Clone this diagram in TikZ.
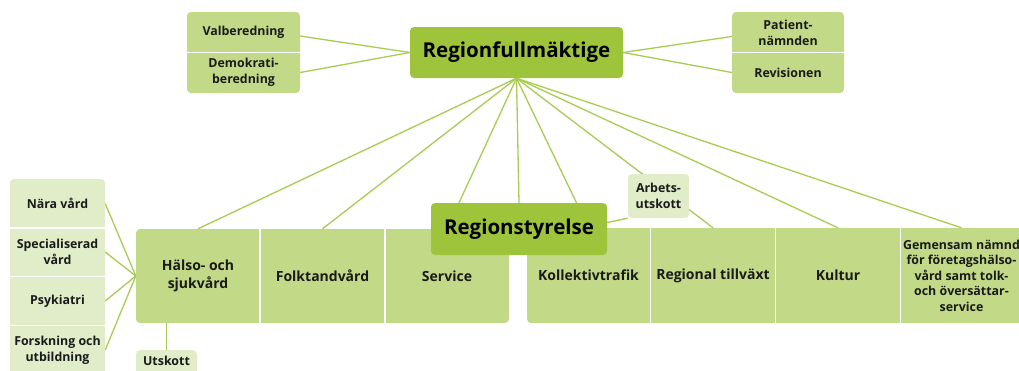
\documentclass[tikz,border=0pt]{standalone}
\usepackage{fontspec}
\setmainfont{Open Sans}
\usetikzlibrary{backgrounds,calc}
\definecolor{darkg}{HTML}{9EC43C}
\definecolor{midg}{HTML}{C2DA88}
\definecolor{lightg}{HTML}{E1EDC9}
\definecolor{lineg}{HTML}{A8CC52}
\definecolor{txt}{HTML}{1A1A1A}
\tikzset{
  cell/.style={rectangle, inner sep=0pt, align=center, text=txt, font=\bfseries\fontsize{12.4}{16}\selectfont},
  bigcell/.style={cell, font=\bfseries\fontsize{14}{18}\selectfont},
  head/.style={rectangle, rounded corners=4pt, fill=darkg, inner sep=0pt, align=center, text=black, font=\bfseries\fontsize{20.5}{24}\selectfont},
  sep/.style={white, line width=1.6pt},
  conn/.style={lineg, line width=1.3pt},
}
\begin{document}
\begin{tikzpicture}[x=1pt,y=-1pt]
\useasboundingbox (0,0) rectangle (1019,370);
\clip (0,0) rectangle (1019,370);
% group backgrounds
\fill[midg, rounded corners=4pt] (187,12) rectangle (300,93);
\fill[midg, rounded corners=4pt] (732,12) rectangle (844,93);
\fill[lightg, rounded corners=4pt] (10,179) rectangle (105,385);
\fill[midg, rounded corners=4pt] (136,229) rectangle (509,323);
\fill[midg, rounded corners=4pt] (527,228) rectangle (1030,323);
% separators
\draw[sep] (187,52.5) -- (300,52.5);
\draw[sep] (732,52.5) -- (844,52.5);
\draw[sep] (10,228) -- (105,228);
\draw[sep] (10,276.5) -- (105,276.5);
\draw[sep] (10,325.5) -- (105,325.5);
\draw[sep] (260,229) -- (260,323);
\draw[sep] (385,229) -- (385,323);
\draw[sep] (650.5,228) -- (650.5,323);
\draw[sep] (775.5,228) -- (775.5,323);
\draw[sep] (900.5,228) -- (900.5,323);
% cells
\node[cell, minimum width=113pt, minimum height=40pt] (vb) at (243.5,32.5) {Valberedning};
\node[cell, minimum width=113pt, minimum height=40pt] (db) at (243.5,72.5) {Demokrati-\\beredning};
\node[cell, minimum width=112pt, minimum height=40pt] (pn) at (788,32.5) {Patient-\\nämnden};
\node[cell, minimum width=112pt, minimum height=40pt] (rv) at (788,72.5) {Revisionen};
\node[cell, minimum width=95pt, minimum height=48pt] (nv) at (57.5,203.5) {Nära vård};
\node[cell, minimum width=95pt, minimum height=48pt] (sp) at (57.5,252) {Specialiserad\\vård};
\node[cell, minimum width=95pt, minimum height=48pt] (ps) at (57.5,301) {Psykiatri};
\node[cell, minimum width=95pt, minimum height=48pt] (fu) at (57.5,350) {Forskning och\\utbildning};
\node[bigcell, minimum width=124pt, minimum height=94pt] (hs) at (198,276) {Hälso- och\\sjukvård};
\node[bigcell, minimum width=124pt, minimum height=94pt] (ft) at (322.5,276) {Folktandvård};
\node[bigcell, minimum width=124pt, minimum height=94pt] (sv) at (447,276) {Service};
\node[bigcell, minimum width=123pt, minimum height=95pt] (kt) at (588.5,275.5) {Kollektivtrafik};
\node[bigcell, minimum width=125pt, minimum height=95pt] (rt) at (713,275.5) {Regional tillväxt};
\node[bigcell, minimum width=125pt, minimum height=95pt] (ku) at (838,275.5) {Kultur};
\node[cell, font=\bfseries\fontsize{12.4}{15.5}\selectfont, minimum width=122pt, minimum height=95pt] (gn) at (961.5,275.5) {Gemensam nämnd\\för företagshälso-\\vård samt tolk-\\och översättar-\\service};
\node[head, minimum width=213pt, minimum height=51pt] (rf) at (516.5,52.5) {Regionfullmäktige};
\node[head, minimum width=176pt, minimum height=52pt] (rs) at (519,229) {Regionstyrelse};
\node[cell, fill=lightg, rounded corners=4pt, minimum width=61pt, minimum height=44pt] (au) at (658.5,196) {Arbets-\\utskott};
\node[cell, fill=lightg, rounded corners=4pt, minimum width=61pt, minimum height=34pt, anchor=north] (ut) at (166.5,350) {};
\node[cell, anchor=north] (utt) at (166.5,356) {Utskott};
% connectors
\begin{pgfonlayer}{background}
\draw[conn] (rf.west) -- ($(vb.east)+(0,3.5)$);
\draw[conn] (rf.west) -- (db.east);
\draw[conn] (rf.east) -- ($(pn.west)+(0,4)$);
\draw[conn] (rf.east) -- (rv.west);
\foreach \t in {hs,ft,sv,rs,kt,rt,ku,gn} \draw[conn] (rf.south) -- (\t.north);
\foreach \t in {nv,sp,ps,fu} \draw[conn] (\t.east) -- (hs.west);
\draw[conn] (ut.north) -- (ut.north |- hs.south);
\draw[conn] ($(rs.east)+(-12,-4)$) -- (au.south west);
\end{pgfonlayer}
\end{tikzpicture}
\end{document}
